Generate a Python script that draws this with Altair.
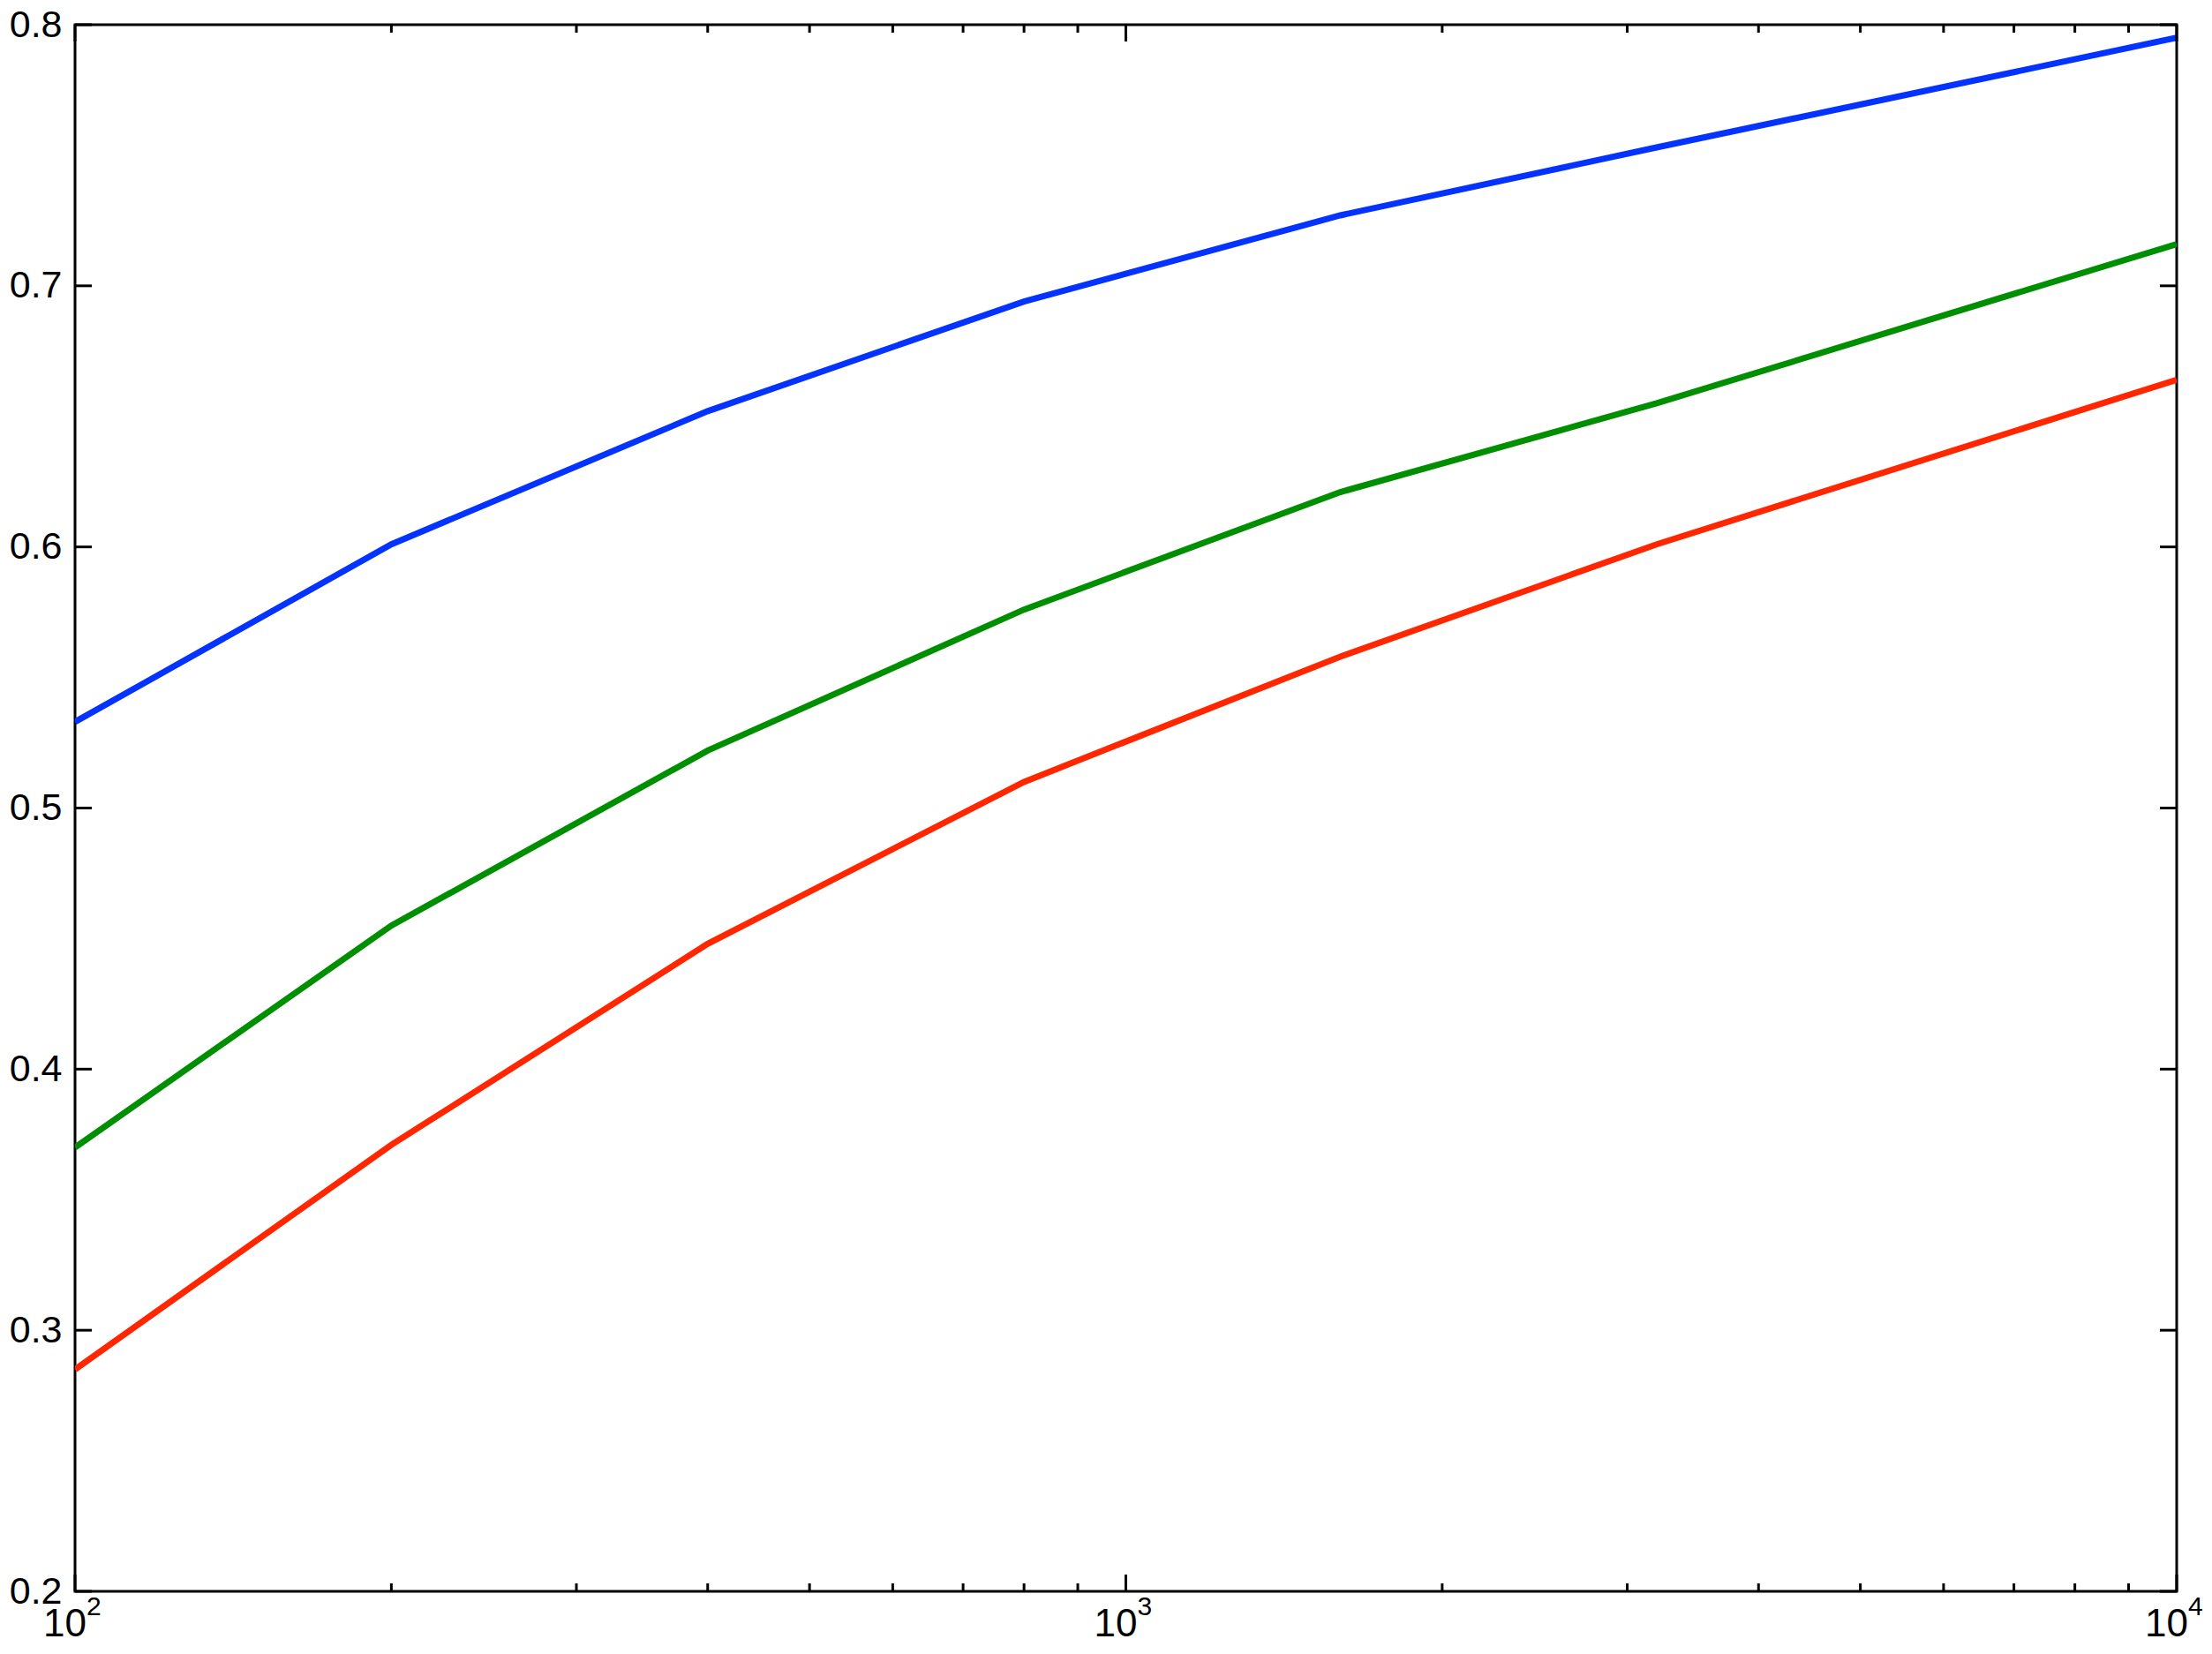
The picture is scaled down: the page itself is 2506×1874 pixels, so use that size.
import altair as alt
import pandas as pd

# ---- data ----
x_vals = [100, 200, 400, 800, 1600, 3200, 10000]
blue_vals = [0.533, 0.601, 0.652, 0.694, 0.727, 0.753, 0.795]
green_vals = [0.370, 0.455, 0.522, 0.576, 0.621, 0.655, 0.716]
red_vals = [0.285, 0.371, 0.448, 0.510, 0.558, 0.601, 0.664]
series_names = ["blue", "green", "red"]
series_colors = ["#0433FF", "#008F00", "#FF2600"]

y_ticks = [0.2, 0.3, 0.4, 0.5, 0.6, 0.7, 0.8]
x_major = [100, 1000, 10000]
x_major_base = ["10", "10", "10"]
x_major_exp = ["2", "3", "4"]
x_minor = [200, 300, 400, 500, 600, 700, 800, 900,
           2000, 3000, 4000, 5000, 6000, 7000, 8000, 9000]

W, H = 2381, 1775
MAJ, MIN = 19, 9
FONT = "Liberation Sans"

rows = []
for name, vals in zip(series_names, [blue_vals, green_vals, red_vals]):
    for xv, yv in zip(x_vals, vals):
        rows.append({"x": xv, "y": yv, "series": name})
df = pd.DataFrame(rows)

xscale = alt.Scale(type="log", domain=[100, 10000], nice=False)
yscale = alt.Scale(domain=[0.2, 0.8], nice=False, zero=False)

lines = alt.Chart(df).mark_line(strokeWidth=7, clip=True).encode(
    x=alt.X("x:Q", scale=xscale, title=None, axis=None),
    y=alt.Y("y:Q", scale=yscale, title=None,
            axis=alt.Axis(values=y_ticks, format=".1f", ticks=False, tickSize=0,
                          domain=False, grid=False, labelFontSize=43, labelFont=FONT,
                          labelColor="black", labelPadding=15, labelFlush=False)),
    color=alt.Color("series:N", scale=alt.Scale(domain=series_names, range=series_colors),
                    legend=None),
    detail="series:N",
)

xmaj_df = pd.DataFrame({"v": x_major, "base": x_major_base, "exp": x_major_exp})
xmin_df = pd.DataFrame({"v": x_minor})
yt_df = pd.DataFrame({"v": y_ticks})

def xtick(data, y0, y1):
    return alt.Chart(data).mark_rule(color="black", strokeWidth=3).encode(
        x=alt.X("v:Q", scale=xscale, axis=None),
        y=alt.value(y0), y2=alt.value(y1))

def ytick(x0, x1):
    return alt.Chart(yt_df).mark_rule(color="black", strokeWidth=3).encode(
        y=alt.Y("v:Q", scale=yscale, axis=None),
        x=alt.value(x0), x2=alt.value(x1))

x_base_labels = alt.Chart(xmaj_df).mark_text(
    font=FONT, fontSize=44, align="right", baseline="alphabetic", dx=13, color="black"
).encode(
    x=alt.X("v:Q", scale=xscale, axis=None),
    y=alt.value(H + 51),
    text="base:N",
)

x_exp_labels = alt.Chart(xmaj_df).mark_text(
    font=FONT, fontSize=30, align="left", baseline="alphabetic", dx=13, color="black"
).encode(
    x=alt.X("v:Q", scale=xscale, axis=None),
    y=alt.value(H + 27),
    text="exp:N",
)

chart = alt.layer(
    lines,
    xtick(xmaj_df, H, H - MAJ),
    xtick(xmin_df, H, H - MIN),
    xtick(xmaj_df, 0, MAJ),
    xtick(xmin_df, 0, MIN),
    ytick(0, MAJ),
    ytick(W, W - MAJ),
    x_base_labels,
    x_exp_labels,
).resolve_axis(
    x="independent", y="independent"
).properties(
    width=W, height=H,
    autosize="none",
    padding={"left": 77, "top": 20, "right": 32, "bottom": 63},
    background="white",
).configure_view(
    stroke="black", strokeWidth=3, fill="white"
)

chart.save("out.html", embed_options={"renderer": "svg", "actions": False})
